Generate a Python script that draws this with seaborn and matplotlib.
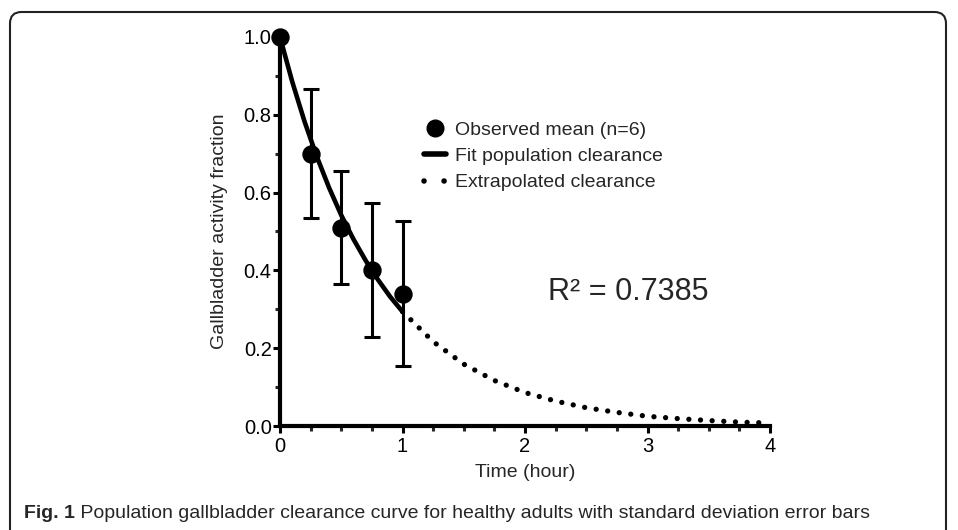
import numpy as np
import pandas as pd
import matplotlib
matplotlib.use("Agg")
import matplotlib.pyplot as plt
import seaborn as sns
from matplotlib.lines import Line2D
from matplotlib.patches import FancyBboxPatch
from matplotlib.ticker import MultipleLocator

# --- datos ---
obs_time = [0.0, 0.25, 0.5, 0.75, 1.0]
obs_mean = [1.0, 0.70, 0.51, 0.40, 0.34]
obs_sd = [0.0, 0.166, 0.146, 0.172, 0.186]

# curva ajustada (0-1 h) y extrapolada (1-4 h)
fit_time = [0.0, 0.1, 0.2, 0.3, 0.4, 0.5, 0.6, 0.7, 0.8, 0.9, 1.0]
fit_value = [1.0, 0.885, 0.783, 0.693, 0.613, 0.542, 0.480, 0.425, 0.376, 0.332, 0.294]
ext_time = [1.0, 1.25, 1.5, 1.75, 2.0, 2.25, 2.5, 2.75, 3.0, 3.25, 3.5, 3.75, 4.0]
ext_value = [0.294, 0.217, 0.159, 0.117, 0.086, 0.064, 0.047, 0.035, 0.025,
             0.019, 0.014, 0.010, 0.0075]

r2_text = "R\u00b2 = 0.7385"
caption_bold = "Fig. 1"
caption_rest = " Population gallbladder clearance curve for healthy adults with standard deviation error bars"

df_obs = pd.DataFrame({"Time": obs_time, "Mean": obs_mean, "SD": obs_sd})
df_fit = pd.DataFrame({"Time": fit_time, "Value": fit_value})
df_ext = pd.DataFrame({"Time": ext_time, "Value": ext_value})

sns.set_theme(style="ticks")
plt.rcParams["font.family"] = ["Liberation Sans", "DejaVu Sans"]

W, H = 958, 530
fig = plt.figure(figsize=(W / 100, H / 100), dpi=100)
ax = fig.add_axes([280 / W, (H - 426) / H, 490 / W, 389 / H])

# marco redondeado
frame = FancyBboxPatch((10 / W, -30 / H), 936 / W, (H - 12 + 30) / H,
                       boxstyle="round,pad=0,rounding_size=0.012",
                       transform=fig.transFigure, fill=False,
                       edgecolor="#222222", linewidth=1.5, mutation_aspect=W / H)
fig.patches.append(frame)

# curvas
sns.lineplot(data=df_fit, x="Time", y="Value", ax=ax, color="black",
             linewidth=3.3, zorder=3)
sns.lineplot(data=df_ext, x="Time", y="Value", ax=ax, color="black",
             linewidth=3.8, zorder=3)
ext_line = ax.lines[-1]
ext_line.set_linestyle((0, (0.01, 2.2)))
ext_line.set_dash_capstyle("round")
ext_line.set_clip_on(False)

# puntos y barras de error
ax.errorbar(df_obs["Time"], df_obs["Mean"], yerr=df_obs["SD"], fmt="none",
            ecolor="black", elinewidth=2.2, capsize=5.5, capthick=2.2,
            zorder=4, clip_on=False)
sns.scatterplot(data=df_obs, x="Time", y="Mean", ax=ax, color="black",
                s=150, edgecolor="black", zorder=5, clip_on=False)

ax.set_xlim(0, 4)
ax.set_ylim(0, 1.0)
ax.xaxis.set_major_locator(MultipleLocator(1))
ax.xaxis.set_minor_locator(MultipleLocator(0.25))
ax.yaxis.set_major_locator(MultipleLocator(0.2))
ax.yaxis.set_minor_locator(MultipleLocator(0.1))
ax.yaxis.set_major_formatter(matplotlib.ticker.FormatStrFormatter("%.1f"))
ax.tick_params(which="major", direction="out", length=5, width=2.2,
               labelsize=14.5, colors="black")
ax.tick_params(axis="y", which="major", pad=1)
ax.tick_params(axis="x", which="major", pad=3)
ax.tick_params(which="minor", direction="out", length=3.5, width=2.2)

for side in ["top", "right"]:
    ax.spines[side].set_visible(False)
for side in ["left", "bottom"]:
    ax.spines[side].set_linewidth(3)
    ax.spines[side].set_color("black")

ax.set_xlabel("Time (hour)", fontsize=14, labelpad=6)
ax.set_ylabel("Gallbladder activity fraction", fontsize=14, labelpad=11)

# leyenda
handles = [
    Line2D([], [], color="black", marker="o", linestyle="none", markersize=12),
    Line2D([], [], color="black", linewidth=4, solid_capstyle="round"),
    Line2D([], [], color="black", linewidth=4, linestyle=(0, (0.01, 3.6)),
           dash_capstyle="round"),
]
labels = ["Observed mean (n=6)", "Fit population clearance", "Extrapolated clearance"]
ax.legend(handles, labels, loc="upper left",
          bbox_to_anchor=(424 / W, (H - 121) / H), bbox_transform=fig.transFigure,
          frameon=False, fontsize=14, handlelength=1.15, handletextpad=0.45,
          labelspacing=0.45, borderpad=0, borderaxespad=0)

ax.text(628, H - 292, r2_text, transform=None, fontsize=22,
        ha="center", va="center")

# pie de figura
cap_font = ["Liberation Sans Narrow", "Liberation Sans", "DejaVu Sans"]
t1 = fig.text(24 / W, (H - 513) / H, caption_bold, fontsize=14, fontweight="bold",
              family=cap_font, va="center", ha="left")
renderer = fig.canvas.get_renderer()
bb = t1.get_window_extent(renderer)
fig.text(bb.x1 / W, (H - 513) / H, caption_rest, fontsize=14,
         family=cap_font, va="center", ha="left")

fig.savefig("out.png", dpi=100)
